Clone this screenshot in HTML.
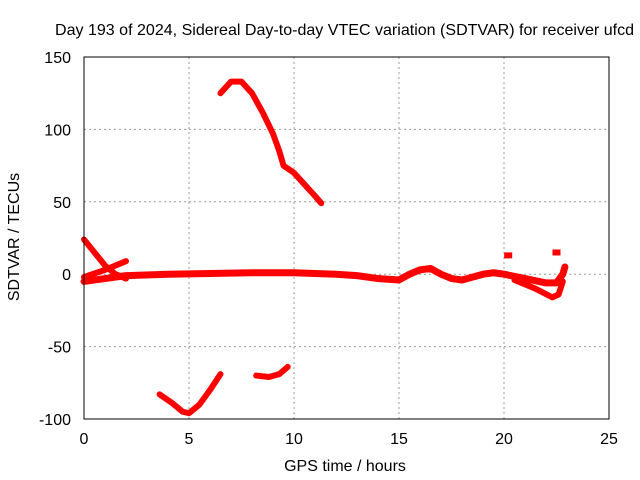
<!DOCTYPE html>
<html><head><meta charset="utf-8"><style>
body{margin:0;background:#fff;}
svg{display:block;font-family:"Liberation Sans",sans-serif;}
</style></head><body>
<svg id="chart" width="640" height="480">
<text x="55" y="35" font-size="16" textLength="579" lengthAdjust="spacingAndGlyphs">Day 193 of 2024, Sidereal Day-to-day VTEC variation (SDTVAR) for receiver ufcd</text>
<text x="345" y="471" font-size="16" text-anchor="middle">GPS time / hours</text>
<text transform="translate(19,237) rotate(-90)" font-size="16" text-anchor="middle">SDTVAR / TECUs</text>
<g id="grid"></g><g id="series"></g>
<rect x="84" y="57" width="525" height="362" fill="none" stroke="#000" stroke-width="1"/>
<g id="ticks"></g>
</svg>
<script>
const xTicks=[0,5,10,15,20,25];
const yTicks=[-100,-50,0,50,100,150];
const s1x=[6.5,7,7.5,8,8.5,9,9.3,9.5,10,10.5,11,11.3];
const s1y=[125,133,133,125,112,97,85,75,70,62,54,49];
const s2x=[3.6,4.2,4.7,5,5.5,6,6.5];
const s2y=[-83,-89,-95,-96,-90,-80,-69];
const s3x=[8.2,8.8,9.3,9.7];
const s3y=[-70,-71,-69,-64];
const s4x=[0,0.5,1,1.5,2];
const s4y=[24,15,6,0,-3];
const s5x=[0,1,2];
const s5y=[-2,3,9];
const s6x=[0,1,2,4,6,8,10,12,13,14,15,15.5,16,16.5,17,17.5,18,19,19.5,20,21,22,22.5,22.8,22.9];
const s6y=[-5,-3,-1,0,0.5,1,1,0,-1,-3,-4,0,3,4,0,-3,-4,0,1,0,-3,-6,-6,0,5];
const s7x=[20.5,21.5,22.3,22.6,22.8];
const s7y=[-4,-10,-16,-14,-5];
const dotX=[20.2,22.5];
const dotY=[13,15];
const X=v=>84+v*21, Y=v=>57+(150-v)*1.448;
const NS="http://www.w3.org/2000/svg";
function mk(t,a,p){const e=document.createElementNS(NS,t);for(const k in a)e.setAttribute(k,a[k]);p.appendChild(e);return e;}
const g=document.getElementById('grid'),tk=document.getElementById('ticks'),sg=document.getElementById('series');
xTicks.forEach(v=>{
 if(v>0&&v<25){const l=mk('line',{x1:X(v),x2:X(v),y1:57,y2:419,stroke:'#999','stroke-dasharray':'2,3'},g);
 
 }
 const t=mk('text',{x:X(v),y:444,'font-size':16,'text-anchor':'middle'},tk);t.textContent=v;
 
 
});
yTicks.forEach(v=>{
 if(v>-100&&v<150){const l=mk('line',{x1:84,x2:609,y1:Y(v),y2:Y(v),stroke:'#999','stroke-dasharray':'2,3'},g);
 
 }
 const t=mk('text',{x:71,y:Y(v)+6,'font-size':16,'text-anchor':'end'},tk);t.textContent=v;
 
 
});
const series=[[s1x,s1y],[s2x,s2y],[s3x,s3y],[s4x,s4y],[s5x,s5y],[s6x,s6y],[s7x,s7y]];
series.forEach((s,i)=>{
 const pts=s[0].map((x,j)=>X(x)+','+Y(s[1][j])).join(' ');
 const p=mk('polyline',{points:pts,fill:'none',stroke:'#f00','stroke-width':i==5?7:6,'stroke-linejoin':'round','stroke-linecap':'round'},sg);
 
 
});
dotX.forEach((x,j)=>{
 const r=mk('rect',{x:X(x)-4,y:Y(dotY[j])-3,width:8,height:6,fill:'#f00'},sg);
 
 
});
</script>
</body></html>
